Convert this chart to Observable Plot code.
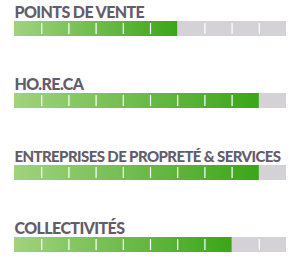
<!DOCTYPE html>
<html><head><meta charset="utf-8">
<script src="https://cdn.jsdelivr.net/npm/d3@7"></script>
<script src="https://cdn.jsdelivr.net/npm/@observablehq/plot@0.6"></script>
<style>body{margin:0;background:#fff} #chart svg text{letter-spacing:-0.6px}</style>
</head><body><div id="chart"></div>
<script>
const categories = ["POINTS DE VENTE", "HO.RE.CA", "ENTREPRISES DE PROPRETÉ & SERVICES", "COLLECTIVITÉS"];
const values = [6, 9, 9, 8];
const maxValue = 10;
const ticks = [1, 2, 3, 4, 5, 6, 7, 8, 9];

const rows = categories.map((c, i) => ({cat: c, value: values[i]}));
const seps = rows.flatMap(r => ticks.filter(t => t !== r.value).map(t => ({cat: r.cat, x: t})));

const defs = () => {
  const ns = "http://www.w3.org/2000/svg";
  const d = document.createElementNS(ns, "defs");
  const g = document.createElementNS(ns, "linearGradient");
  g.setAttribute("id", "grn");
  g.setAttribute("x1", "0"); g.setAttribute("x2", "1"); g.setAttribute("y1", "0"); g.setAttribute("y2", "0");
  [["0%", "#a2d27e"], ["100%", "#3aa619"]].forEach(([o, c]) => {
    const s = document.createElementNS(ns, "stop");
    s.setAttribute("offset", o); s.setAttribute("stop-color", c);
    g.appendChild(s);
  });
  d.appendChild(g);
  return d;
};

const chart = Plot.plot({
  width: 300,
  height: 267,
  marginLeft: 14,
  marginRight: 14,
  marginTop: 0,
  marginBottom: 0,
  x: {domain: [0, maxValue], axis: null},
  y: {type: "band", domain: categories, range: [20.8, 20.8 + 72 * 3 + 14.6], paddingInner: 1 - 14.6 / 72, paddingOuter: 0, axis: null},
  marks: [
    defs,
    Plot.barX(rows, {x1: 0, x2: maxValue, y: "cat", fill: "#d4d2d6"}),
    Plot.barX(rows, {x1: 0, x2: "value", y: "cat", fill: "url(#grn)"}),
    Plot.tickX(seps, {x: "x", y: "cat", stroke: "#ffffff", strokeWidth: 1.2, insetTop: 2, insetBottom: 2}),
    Plot.text(rows, {x: 0, y: "cat", text: "cat", textAnchor: "start", lineAnchor: "bottom", dy: -11.3,
      fill: "#645c6b", fontFamily: "Lato", fontWeight: 900,
      fontSize: d => d.cat.length > 20 ? 15 : 16})
  ]
});
document.getElementById("chart").appendChild(chart);
</script>
</body></html>
